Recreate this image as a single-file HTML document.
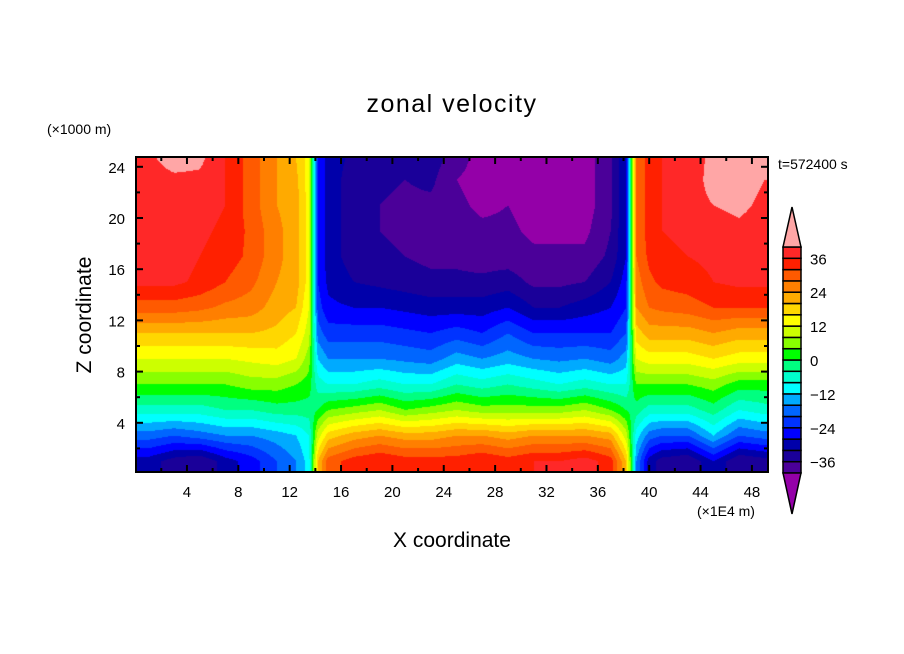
<!DOCTYPE html>
<html><head><meta charset="utf-8">
<style>
html,body{margin:0;padding:0;background:#fff;}
#wrap{position:relative;width:904px;height:654px;overflow:hidden;font-family:"Liberation Sans",sans-serif;color:#000;}
</style></head>
<body>
<div id="wrap">
<canvas id="cv" width="904" height="654" style="position:absolute;left:0;top:0"></canvas>
<svg id="sv" width="904" height="654" style="position:absolute;left:0;top:0"></svg>
</div>
<script>
const xCenters = [1,3,5,7,9,11,12.5,13.5,14.2,15,17,19,21,23,25,27,29,31,33,35,37,38.2,39,40,41,43,45,47,49];
const zCenters = [1,3,5,7,9,11,13,15,17,19,21,23,24.6];
const uValues = [
[-30,-18,-6,4,12,20,30,37,38,38,38,38,39],
[-34,-20,-6,4,12,20,30,37,38,38,38,39,42],
[-36,-18,-6,4,12,20,29,35,36,37,38,39,41],
[-30,-16,-4,4,12,20,27,32,34,35,36,36,36],
[-26,-16,-4,6,13,20,26,29,31,31,30,30,30],
[-20,-14,-2,6,14,19,22,24,25,25,24,24,24],
[-16,-12,-2,4,12,16,20,22,22,22,22,21,20],
[-10,-8,-2,2,6,10,12,14,14,14,14,14,14],
[20,10,0,-6,-12,-18,-22,-24,-24,-24,-24,-24,-24],
[30,18,4,-8,-16,-22,-27,-29,-30,-30,-30,-30,-30],
[34,22,6,-8,-16,-22,-28,-32,-34,-34,-34,-34,-33],
[36,24,8,-6,-16,-22,-28,-33,-35,-36,-36,-35,-34],
[34,22,4,-8,-17,-23,-29,-34,-36,-37,-37,-36,-34],
[34,22,6,-8,-18,-24,-30,-35,-37,-37,-37,-35,-34],
[34,24,8,-4,-14,-22,-30,-35,-37,-38,-39,-40,-38],
[36,24,6,-6,-16,-24,-30,-35,-38,-39,-41,-42,-42],
[34,22,6,-4,-14,-20,-28,-34,-38,-39,-40,-41,-40],
[36,24,6,-6,-16,-24,-32,-37,-39,-41,-42,-42,-42],
[36,24,6,-8,-17,-24,-32,-37,-39,-41,-42,-42,-42],
[38,24,8,-6,-16,-24,-30,-36,-39,-41,-42,-42,-42],
[34,22,4,-8,-18,-24,-28,-32,-35,-36,-37,-37,-37],
[20,10,0,-8,-14,-20,-24,-26,-28,-28,-28,-28,-28],
[-16,-10,-2,4,12,18,24,26,28,28,28,28,28],
[-30,-18,-6,4,14,22,28,31,33,34,34,34,34],
[-34,-20,-6,4,14,22,29,33,35,36,36,36,36],
[-36,-20,-6,4,14,22,30,34,36,37,38,37,36],
[-28,-12,-2,6,16,24,32,36,37,38,40,42,42],
[-36,-20,-8,2,14,22,32,37,38,39,41,42,42],
[-34,-18,-6,2,14,22,32,37,38,38,39,40,40]
];
const levelColors = ["#9400a8","#4b0099","#1a0099","#0000aa","#0000ff","#0033ff","#0066ff","#00aaff","#00ffff","#00ffcc","#00ff80","#00ff00","#88ff00","#ccff00","#ffff00","#ffd700","#ffaa00","#ff7f00","#ff5a00","#ff2000","#ff2828","#ffa6a6"];
const levelMin = -40, levelStep = 4;
const xTicks = [4,8,12,16,20,24,28,32,36,40,44,48];
const zTicks = [4,8,12,16,20,24];
const cbLabels = [36,24,12,0,-12,-24,-36];

const PL=136, PR=768, PT=157, PB=472;
const X0=135.6, XS=12.84, Z0=474, ZS=12.8;
const xp = x => X0 + x*XS;
const zp = z => Z0 - z*ZS;
const xv = px => (px - X0)/XS;
const zv = py => (Z0 - py)/ZS;
function colorFor(v){
  let k = Math.floor((v - levelMin)/levelStep) + 1;
  if (k < 0) k = 0; if (k > levelColors.length-1) k = levelColors.length-1;
  return levelColors[k];
}
function idx(arr, v){
  if (v <= arr[0]) return [0,0,0];
  if (v >= arr[arr.length-1]) return [arr.length-1,arr.length-1,0];
  for (let i=0;i<arr.length-1;i++) if (v>=arr[i] && v<=arr[i+1]) return [i,i+1,(v-arr[i])/(arr[i+1]-arr[i])];
}
function sample(x,z){
  const [i0,i1,tx]=idx(xCenters,x), [j0,j1,tz]=idx(zCenters,z);
  const a=uValues[i0][j0]*(1-tx)+uValues[i1][j0]*tx;
  const b=uValues[i0][j1]*(1-tx)+uValues[i1][j1]*tx;
  return a*(1-tz)+b*tz;
}
const ctx = document.getElementById('cv').getContext('2d');
for (let px=PL; px<PR; px++){
  for (let py=PT; py<PB; py++){
    ctx.fillStyle = colorFor(sample(xv(px+0.5), zv(py+0.5)));
    ctx.fillRect(px,py,1,1);
  }
}
const NS='http://www.w3.org/2000/svg';
const sv=document.getElementById('sv');
function mk(tag, attrs, parent){ const e=document.createElementNS(NS,tag); for(const k in attrs) e.setAttribute(k,attrs[k]); (parent||sv).appendChild(e); return e; }
function txt(s,x,y,size,anchor,name){ const t=mk('text',{x:x,y:y,'font-size':size,'text-anchor':anchor||'start','font-family':'Liberation Sans, sans-serif'}); t.textContent=s;
  
  
  return t; }

const fr=mk('rect',{x:PL,y:PT,width:PR-PL,height:PB-PT,fill:'none',stroke:'#000','stroke-width':2});


for (let x=2; x<50; x+=2){
  const L = (x%4===0)?7:4;
  const X=xp(x);
  const t1=mk('line',{x1:X,y1:PB,x2:X,y2:PB-L,stroke:'#000','stroke-width':2});
  
  
  const t2=mk('line',{x1:X,y1:PT,x2:X,y2:PT+L,stroke:'#000','stroke-width':2});
  
  
}
for (let z=2; z<=24; z+=2){
  const L = (z%4===0)?7:4;
  const Y=zp(z);
  const t1=mk('line',{x1:PL,y1:Y,x2:PL+L,y2:Y,stroke:'#000','stroke-width':2});
  
  
  const t2=mk('line',{x1:PR,y1:Y,x2:PR-L,y2:Y,stroke:'#000','stroke-width':2});
  
  
}
xTicks.forEach(x=>txt(String(x), xp(x), 497, 15, 'middle', 'x-tick-label'));
zTicks.forEach(z=>txt(String(z), 125, zp(z)+6, 15, 'end', 'z-tick-label'));

txt('zonal velocity', 452, 112, 25, 'middle', 'chart-title').setAttribute('letter-spacing','1.5');
txt('(×1000 m)', 47, 134, 14, 'start', 'z-unit-label');
txt('(×1E4 m)', 697, 516, 14, 'start', 'x-unit-label');
txt('X coordinate', 452, 547, 21, 'middle', 'x-axis-title');
const yt=txt('Z coordinate', 0, 0, 21, 'middle', 'z-axis-title');
yt.setAttribute('transform','translate(91,315) rotate(-90)');
txt('t=572400 s', 778, 169, 14, 'start', 'time-label');

const CX=783, CW=18, CT=247, CB=473;
const nBox=20, bh=(CB-CT)/nBox;
for (let k=0;k<nBox;k++){
  const r=mk('rect',{x:CX,y:CB-(k+1)*bh,width:CW,height:bh,fill:levelColors[k+1],stroke:'#000','stroke-width':1.5});
  
  
}
const tu=mk('polygon',{points:`${CX},${CT} ${CX+CW},${CT} ${CX+CW/2},207`,fill:levelColors[levelColors.length-1],stroke:'#000','stroke-width':1.5});


const tl=mk('polygon',{points:`${CX},${CB} ${CX+CW},${CB} ${CX+CW/2},514`,fill:levelColors[0],stroke:'#000','stroke-width':1.5});


cbLabels.forEach(v=>{
  const y = CB - (v - levelMin)/levelStep*bh;
  txt(v<0?'\u2212'+Math.abs(v):String(v), 810, y+6, 15, 'start', 'colorbar-label');
});
</script>
</body></html>
